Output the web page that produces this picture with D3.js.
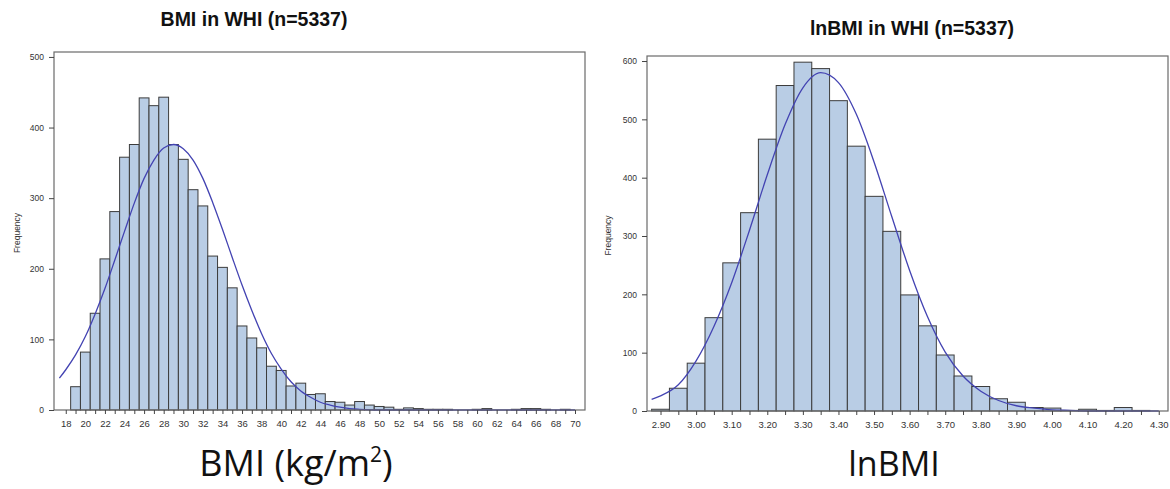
<!DOCTYPE html>
<html>
<head>
    <script src="https://d3js.org/d3.v7.min.js"></script>
    <style>
        body { margin: 0; background: #fff; }
        svg { display: block; font-family: "Liberation Sans", Arial, sans-serif; }
        .bar { fill: #b9cde5; stroke: #3c3c3c; stroke-width: 1; }
        .frame { fill: none; stroke: #6a6a6a; stroke-width: 1.2; }
        .fit { fill: none; stroke: #4343b2; stroke-width: 1.3; }
        .axis path { display: none; }
        .axis line { stroke: #444; }
        .axis text { fill: #333; }
    </style>
</head>
<body>
    <svg width="1170" height="489"></svg>
    <script>
        // ---- BMI histogram (bin centres, width 1) ----
        var bmiBins = [19, 20, 21, 22, 23, 24, 25, 26, 27, 28, 29, 30, 31, 32, 33, 34, 35, 36, 37, 38,
                       39, 40, 41, 42, 43, 44, 45, 46, 47, 48, 49, 50, 51, 52, 53, 54, 55, 56, 57, 58,
                       59, 60, 61, 62, 63, 64, 65, 66, 67, 68, 69];
        var bmiCounts = [33, 82, 137, 214, 281, 358, 376, 442, 431, 443, 376, 355, 312, 289, 218, 202, 173, 119, 102, 88,
                         62, 56, 34, 38, 22, 23, 12, 11, 7, 12, 7, 5, 4, 1, 3, 2, 1, 1, 1, 0,
                         0, 1, 2, 0, 0, 1, 2, 2, 1, 0, 1];
        var bmiTickLabels = [18, 20, 22, 24, 26, 28, 30, 32, 34, 36, 38, 40, 42, 44, 46, 48, 50, 52, 54, 56, 58, 60, 62, 64, 66, 68, 70];
        var bmiYTicks = [0, 100, 200, 300, 400, 500];
        // fitted normal curve
        var bmiCurveX = [17.35, 18, 19, 20, 21, 22, 23, 24, 25, 26, 27, 28, 29, 30, 31, 32, 33, 34, 35, 36,
                         37, 38, 39, 40, 41, 42, 43, 44, 45, 46, 47, 48, 50, 55, 60, 70];
        var bmiCurveY = [45, 57, 78, 104, 136, 172, 212, 253, 293, 328, 354, 371, 376, 370, 354, 328, 294, 256, 216, 177,
                         141, 108, 80, 58, 40, 27, 18, 11, 7, 4, 2, 1, 0, 0, 0, 0];

        // ---- lnBMI histogram (bin centres, width 0.05) ----
        var lnBins = [2.90, 2.95, 3.00, 3.05, 3.10, 3.15, 3.20, 3.25, 3.30, 3.35, 3.40, 3.45, 3.50, 3.55,
                      3.60, 3.65, 3.70, 3.75, 3.80, 3.85, 3.90, 3.95, 4.00, 4.05, 4.10, 4.15, 4.20, 4.25];
        var lnCounts = [3, 39, 82, 160, 254, 340, 466, 558, 598, 587, 532, 454, 368, 308,
                        199, 146, 96, 60, 42, 21, 15, 6, 5, 1, 3, 1, 6, 1];
        var lnTickLabels = ["2.90", "3.00", "3.10", "3.20", "3.30", "3.40", "3.50", "3.60", "3.70", "3.80", "3.90", "4.00", "4.10", "4.20", "4.30"];
        var lnYTicks = [0, 100, 200, 300, 400, 500, 600];
        var lnCurveX = [2.875, 2.90, 2.95, 3.00, 3.05, 3.10, 3.15, 3.20, 3.25, 3.30, 3.35, 3.40, 3.45, 3.50,
                        3.55, 3.60, 3.65, 3.70, 3.75, 3.80, 3.85, 3.90, 3.95, 4.00, 4.05, 4.10, 4.20, 4.30];
        var lnCurveY = [20, 26, 45, 86, 145, 220, 310, 405, 491, 554, 580, 563, 509, 427,
                        333, 241, 162, 101, 60, 34, 18, 9, 5, 2, 1, 0, 0, 0];

        var svg = d3.select("svg");

        function drawPanel(p) {
            var x = d3.scaleLinear().domain(p.xDomain).range([p.left, p.right]);
            var y = d3.scaleLinear().domain([0, p.yMax]).range([p.bottom, p.top]);
            var g = svg.append("g");

            // bars (empty bins are not drawn)
            var bars = p.bins.map(function(b, i) { return {c: b, n: p.counts[i]}; })
                .filter(function(d) { return d.n > 0; });
            g.selectAll("rect.bar")
                .data(bars)
                .enter().append("rect")
                .attr("class", "bar")
                .attr("x", function(d) { return x(d.c - p.binWidth / 2); })
                .attr("width", function(d) { return x(d.c + p.binWidth / 2) - x(d.c - p.binWidth / 2); })
                .attr("y", function(d) { return y(d.n); })
                .attr("height", function(d) { return p.bottom - y(d.n); });

            // fitted curve
            var pts = p.curveX.map(function(v, i) { return [v, p.curveY[i]]; });
            var line = d3.line()
                .x(function(d) { return x(d[0]); })
                .y(function(d) { return y(d[1]); })
                .curve(d3.curveMonotoneX);
            g.append("path").datum(pts).attr("class", "fit").attr("d", line);

            // frame
            g.append("rect")
                .attr("class", "frame")
                .attr("x", p.left).attr("y", p.top)
                .attr("width", p.right - p.left)
                .attr("height", p.bottom - p.top);

            // x axis: minor ticks everywhere, labels on the labelled set
            var labelled = p.tickLabels.map(Number);
            var xAxis = d3.axisBottom(x)
                .tickValues(p.minorTicks)
                .tickSize(4)
                .tickPadding(6)
                .tickFormat(function(d) {
                    var k = labelled.findIndex(function(v) { return Math.abs(v - d) < 1e-6; });
                    return k >= 0 ? p.tickLabels[k] : "";
                });
            g.append("g")
                .attr("class", "axis")
                .attr("transform", "translate(0," + p.bottom + ")")
                .call(xAxis)
                .selectAll("text").style("font-size", "9.5px");

            var yAxis = d3.axisLeft(y).tickValues(p.yTicks).tickSize(5).tickPadding(5);
            g.append("g")
                .attr("class", "axis")
                .attr("transform", "translate(" + p.left + ",0)")
                .call(yAxis)
                .selectAll("text").style("font-size", "8.5px");

            g.append("text")
                .attr("transform", "translate(" + p.freqX + "," + ((p.top + p.bottom) / 2 + 2) + ") rotate(-90)")
                .attr("text-anchor", "middle")
                .style("font-size", "8.5px")
                .attr("fill", "#333")
                .text("Frequency");

            svg.append("text")
                .attr("x", p.titleX).attr("y", p.titleY)
                .attr("text-anchor", "middle")
                .style("font-size", "19.5px")
                .style("font-weight", "bold")
                .attr("fill", "#111")
                .text(p.title);

            var lab = svg.append("text")
                .attr("x", p.labelX).attr("y", 476)
                .attr("text-anchor", "middle")
                .style("font-family", "'Open Sans', 'Noto Sans', sans-serif")
                .style("font-size", p.labelSize)
                .attr("fill", "#111");
            p.label(lab);
        }

        drawPanel({
            bins: bmiBins, counts: bmiCounts, binWidth: 1,
            curveX: bmiCurveX, curveY: bmiCurveY,
            tickLabels: bmiTickLabels, minorTicks: d3.range(18, 71, 1), yTicks: bmiYTicks,
            xDomain: [16.8, 71.02], yMax: 507,
            left: 54, right: 585, top: 52, bottom: 410,
            freqX: 20, title: "BMI in WHI (n=5337)", titleX: 254, titleY: 26,
            labelX: 296, labelSize: "36px",
            label: function(t) {
                t.append("tspan").text("BMI (kg/m");
                t.append("tspan").attr("dy", -14).style("font-size", "21px").text("2");
                t.append("tspan").attr("dy", 14).text(")");
            }
        });

        drawPanel({
            bins: lnBins, counts: lnCounts, binWidth: 0.05,
            curveX: lnCurveX, curveY: lnCurveY,
            tickLabels: lnTickLabels, minorTicks: d3.range(0, 29).map(function(i) { return 2.90 + i * 0.05; }), yTicks: lnYTicks,
            xDomain: [2.862, 4.326], yMax: 608.6,
            left: 647, right: 1168, top: 56, bottom: 411,
            freqX: 611, title: "lnBMI in WHI (n=5337)", titleX: 912, titleY: 35,
            labelX: 894, labelSize: "34px",
            label: function(t) { t.text("lnBMI"); }
        });
    </script>
</body>
</html>
